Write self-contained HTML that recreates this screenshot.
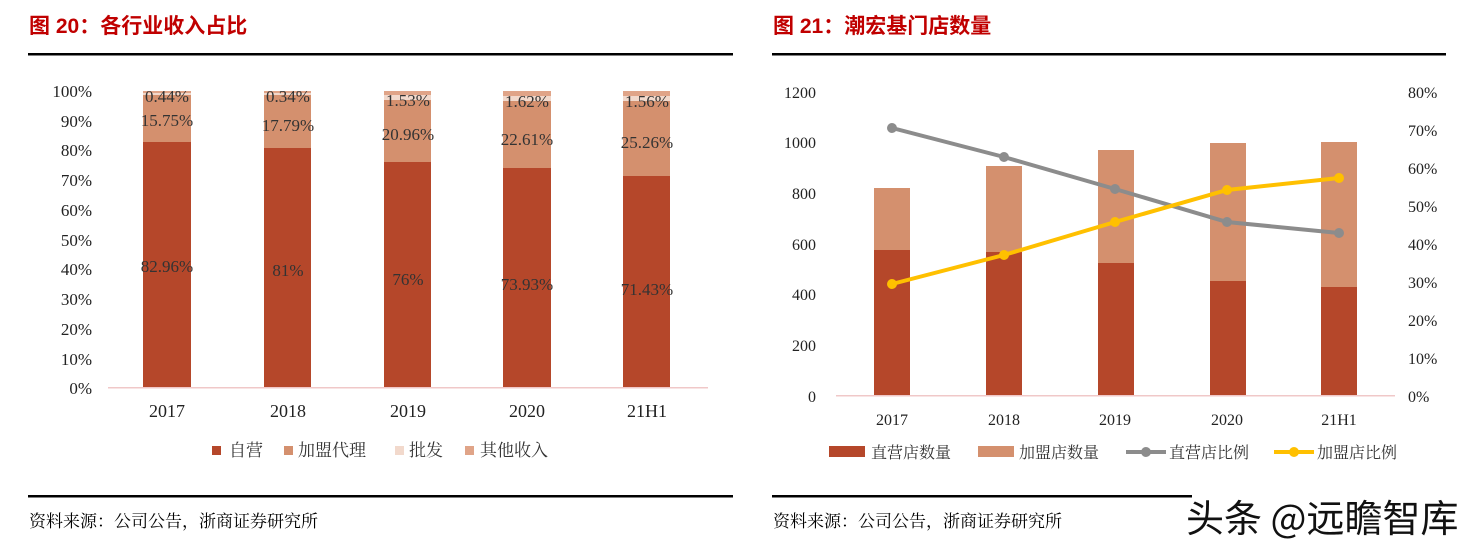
<!DOCTYPE html><html><head><meta charset="utf-8"><style>
body{margin:0;background:#fff;width:1479px;height:542px;overflow:hidden;font-family:"Liberation Serif","Noto Serif CJK SC",serif}
svg text{font-family:"Liberation Serif","Noto Serif CJK SC",serif}
</style></head><body>
<svg width="1479" height="542" xmlns="http://www.w3.org/2000/svg">
<g font-weight="bold" fill="#c00000" font-size="21">
<text x="29" y="33" style="font-family:'Liberation Sans','Noto Sans CJK SC',sans-serif">图 20：各行业收入占比</text>
<text x="773" y="33" style="font-family:'Liberation Sans','Noto Sans CJK SC',sans-serif">图 21：潮宏基门店数量</text>
</g>
<rect x="28" y="53" width="705" height="2.5" fill="#000"/>
<rect x="772" y="53" width="674" height="2.5" fill="#000"/>
<rect x="28" y="495" width="705" height="2.5" fill="#000"/>
<rect x="772" y="495" width="420" height="2.5" fill="#000"/>
<g font-size="17" fill="#000">
<text x="29" y="527">资料来源：公司公告，浙商证券研究所</text>
<text x="773" y="527">资料来源：公司公告，浙商证券研究所</text>
</g>
<text x="1186" y="532" font-size="38" fill="#111" style="font-family:'Noto Sans CJK SC',sans-serif">头条 @远瞻智库</text>

<!-- left chart -->
<g font-size="17" fill="#222" text-anchor="end">
<text x="92" y="97">100%</text><text x="92" y="127">90%</text><text x="92" y="156">80%</text><text x="92" y="186">70%</text><text x="92" y="216">60%</text><text x="92" y="246">50%</text><text x="92" y="275">40%</text><text x="92" y="305">30%</text><text x="92" y="335">20%</text><text x="92" y="365">10%</text><text x="92" y="394">0%</text>
</g>
<g>
<rect x="143" y="142" width="48" height="246" fill="#b5472a"/><rect x="143" y="95" width="48" height="47" fill="#d4906e"/><rect x="143" y="93" width="48" height="2" fill="#f2d9cc"/><rect x="143" y="91" width="48" height="2" fill="#e0a488"/>
<rect x="264" y="148" width="47" height="240" fill="#b5472a"/><rect x="264" y="95" width="47" height="53" fill="#d4906e"/><rect x="264" y="93" width="47" height="2" fill="#f2d9cc"/><rect x="264" y="91" width="47" height="2" fill="#e0a488"/>
<rect x="384" y="162" width="47" height="226" fill="#b5472a"/><rect x="384" y="100" width="47" height="62" fill="#d4906e"/><rect x="384" y="95" width="47" height="5" fill="#f2d9cc"/><rect x="384" y="91" width="47" height="4" fill="#e0a488"/>
<rect x="503" y="168" width="48" height="220" fill="#b5472a"/><rect x="503" y="101" width="48" height="67" fill="#d4906e"/><rect x="503" y="96" width="48" height="5" fill="#f2d9cc"/><rect x="503" y="91" width="48" height="5" fill="#e0a488"/>
<rect x="623" y="176" width="47" height="212" fill="#b5472a"/><rect x="623" y="101" width="47" height="75" fill="#d4906e"/><rect x="623" y="96" width="47" height="5" fill="#f2d9cc"/><rect x="623" y="91" width="47" height="5" fill="#e0a488"/>
</g>
<rect x="108" y="387" width="600" height="1.5" fill="#f0c8c8"/>
<g font-size="17" fill="#333" text-anchor="middle">
<text x="167" y="102">0.44%</text><text x="167" y="126">15.75%</text><text x="167" y="272">82.96%</text>
<text x="288" y="102">0.34%</text><text x="288" y="131">17.79%</text><text x="288" y="276">81%</text>
<text x="408" y="106">1.53%</text><text x="408" y="140">20.96%</text><text x="408" y="285">76%</text>
<text x="527" y="107">1.62%</text><text x="527" y="145">22.61%</text><text x="527" y="290">73.93%</text>
<text x="647" y="107">1.56%</text><text x="647" y="148">25.26%</text><text x="647" y="295">71.43%</text>
</g>
<g font-size="18" fill="#222" text-anchor="middle">
<text x="167" y="417">2017</text><text x="288" y="417">2018</text><text x="408" y="417">2019</text><text x="527" y="417">2020</text><text x="647" y="417">21H1</text>
</g>
<g font-size="17" fill="#333">
<rect x="212" y="446" width="9" height="9" fill="#b5472a"/><text x="229" y="456">自营</text>
<rect x="284" y="446" width="9" height="9" fill="#d4906e"/><text x="298" y="456">加盟代理</text>
<rect x="395" y="446" width="9" height="9" fill="#f2d9cc"/><text x="409" y="456">批发</text>
<rect x="465" y="446" width="9" height="9" fill="#e0a488"/><text x="480" y="456">其他收入</text>
</g>

<!-- right chart -->
<g font-size="16" fill="#222" text-anchor="end">
<text x="816" y="98">1200</text><text x="816" y="148">1000</text><text x="816" y="199">800</text><text x="816" y="250">600</text><text x="816" y="300">400</text><text x="816" y="351">200</text><text x="816" y="402">0</text>
</g>
<g font-size="16" fill="#222">
<text x="1408" y="98">80%</text><text x="1408" y="136">70%</text><text x="1408" y="174">60%</text><text x="1408" y="212">50%</text><text x="1408" y="250">40%</text><text x="1408" y="288">30%</text><text x="1408" y="326">20%</text><text x="1408" y="364">10%</text><text x="1408" y="402">0%</text>
</g>
<g>
<rect x="874" y="250" width="36" height="146" fill="#b5472a"/><rect x="874" y="188" width="36" height="62" fill="#d4906e"/>
<rect x="986" y="252" width="36" height="144" fill="#b5472a"/><rect x="986" y="166" width="36" height="86" fill="#d4906e"/>
<rect x="1098" y="263" width="36" height="133" fill="#b5472a"/><rect x="1098" y="150" width="36" height="113" fill="#d4906e"/>
<rect x="1210" y="281" width="36" height="115" fill="#b5472a"/><rect x="1210" y="143" width="36" height="138" fill="#d4906e"/>
<rect x="1321" y="287" width="36" height="109" fill="#b5472a"/><rect x="1321" y="142" width="36" height="145" fill="#d4906e"/>
</g>
<rect x="836" y="395" width="559" height="1.5" fill="#f0c8c8"/>
<polyline points="892,128 1004,157 1115,189 1227,222 1339,233" fill="none" stroke="#8c8c8c" stroke-width="4"/>
<g fill="#8c8c8c"><circle cx="892" cy="128" r="5"/><circle cx="1004" cy="157" r="5"/><circle cx="1115" cy="189" r="5"/><circle cx="1227" cy="222" r="5"/><circle cx="1339" cy="233" r="5"/></g>
<polyline points="892,284 1004,255 1115,222 1227,190 1339,178" fill="none" stroke="#ffc000" stroke-width="4"/>
<g fill="#ffc000"><circle cx="892" cy="284" r="5"/><circle cx="1004" cy="255" r="5"/><circle cx="1115" cy="222" r="5"/><circle cx="1227" cy="190" r="5"/><circle cx="1339" cy="178" r="5"/></g>
<g font-size="16" fill="#222" text-anchor="middle">
<text x="892" y="425">2017</text><text x="1004" y="425">2018</text><text x="1115" y="425">2019</text><text x="1227" y="425">2020</text><text x="1339" y="425">21H1</text>
</g>
<g font-size="16" fill="#333">
<rect x="829" y="446" width="36" height="11" fill="#b5472a"/><text x="871" y="458">直营店数量</text>
<rect x="978" y="446" width="36" height="11" fill="#d4906e"/><text x="1019" y="458">加盟店数量</text>
<line x1="1126" y1="452" x2="1166" y2="452" stroke="#8c8c8c" stroke-width="4"/><circle cx="1146" cy="452" r="5" fill="#8c8c8c"/><text x="1169" y="458">直营店比例</text>
<line x1="1274" y1="452" x2="1314" y2="452" stroke="#ffc000" stroke-width="4"/><circle cx="1294" cy="452" r="5" fill="#ffc000"/><text x="1317" y="458">加盟店比例</text>
</g>
</svg>
</body></html>
